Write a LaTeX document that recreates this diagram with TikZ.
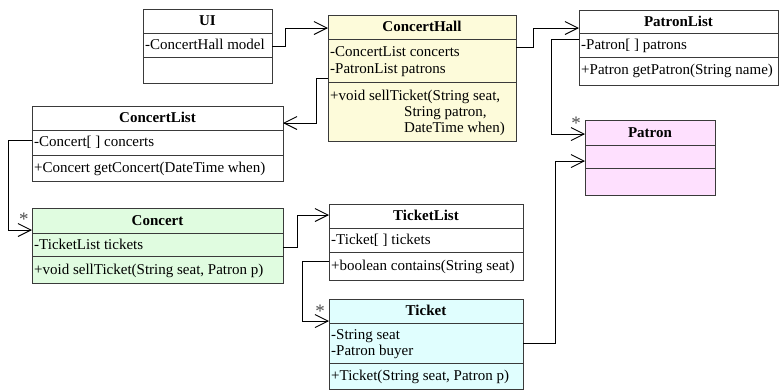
\documentclass[tikz,border=0pt]{standalone}
\usepackage{fontspec}
\setmainfont{Liberation Serif}
\usetikzlibrary{arrows.meta}

\definecolor{boxline}{HTML}{3A3A3A}
\definecolor{hallfill}{HTML}{FDFBDA}
\definecolor{concertfill}{HTML}{E0FCE0}
\definecolor{patronfill}{HTML}{FEE0FE}
\definecolor{ticketfill}{HTML}{E0FEFE}
\newcommand\umlfont{\fontsize{15}{17}\selectfont}

\tikzset{
  cls/.style={draw=boxline, line width=0.9pt, anchor=north west, inner sep=0pt, outer sep=0pt},
  sepline/.style={draw=boxline, line width=0.9pt},
  ttl/.style={font=\umlfont\bfseries, anchor=center, inner sep=0pt, text height=11pt, text depth=3pt},
  mem/.style={font=\umlfont, anchor=west, inner sep=0pt, xshift=2pt, text height=11pt, text depth=3pt},
  assoc/.style={draw=black, line width=0.9pt, -{Straight Barb[length=13pt,width=13pt,line width=0.9pt]}},
  mult/.style={font=\fontsize{19}{19}\selectfont, text=black!70, inner sep=0pt}
}

\begin{document}
\begin{tikzpicture}[x=1pt, y=-1pt]
\useasboundingbox (0,0) rectangle (780,389);

% ---- class boxes ----
\node[cls, fill=white, minimum width=129pt, minimum height=74pt] (ui) at (143,9) {};
\draw[sepline] (ui.west |- 0,33) -- (ui.east |- 0,33);
\draw[sepline] (ui.west |- 0,57) -- (ui.east |- 0,57);
\node[ttl] (uiT) at (ui.north |- 0,21) {UI};
\node[mem] (uiA) at (ui.west |- 0,45) {-ConcertHall model};

\node[cls, fill=hallfill, minimum width=188pt, minimum height=126pt] (hall) at (328,15) {};
\draw[sepline] (hall.west |- 0,39) -- (hall.east |- 0,39);
\draw[sepline] (hall.west |- 0,82) -- (hall.east |- 0,82);
\node[ttl] (hallT) at (hall.north |- 0,27) {ConcertHall};
\node[mem] (hallA1) at (hall.west |- 0,52) {-ConcertList concerts};
\node[mem] (hallA2) at (hall.west |- 0,69) {-PatronList patrons};
\node[mem] (hallO1) at (hall.west |- 0,96) {+void sellTicket(String seat,};
\node[mem, xshift=74pt] (hallO2) at (hall.west |- 0,112) {String patron,};
\node[mem, xshift=74pt] (hallO3) at (hall.west |- 0,128) {DateTime when)};

\node[cls, fill=white, minimum width=199pt, minimum height=75pt] (plist) at (579,10) {};
\draw[sepline] (plist.west |- 0,33) -- (plist.east |- 0,33);
\draw[sepline] (plist.west |- 0,57) -- (plist.east |- 0,57);
\node[ttl] (plistT) at (plist.north |- 0,22) {PatronList};
\node[mem] (plistA) at (plist.west |- 0,45) {-Patron[ ] patrons};
\node[mem] (plistO) at (plist.west |- 0,70) {+Patron getPatron(String name)};

\node[cls, fill=white, minimum width=251pt, minimum height=75pt] (clist) at (32,106) {};
\draw[sepline] (clist.west |- 0,130) -- (clist.east |- 0,130);
\draw[sepline] (clist.west |- 0,155) -- (clist.east |- 0,155);
\node[ttl] (clistT) at (clist.north |- 0,118) {ConcertList};
\node[mem] (clistA) at (clist.west |- 0,142) {-Concert[ ] concerts};
\node[mem] (clistO) at (clist.west |- 0,168) {+Concert getConcert(DateTime when)};

\node[cls, fill=patronfill, minimum width=130pt, minimum height=75pt] (patron) at (585,120) {};
\draw[sepline] (patron.west |- 0,145) -- (patron.east |- 0,145);
\draw[sepline] (patron.west |- 0,168) -- (patron.east |- 0,168);
\node[ttl] (patronT) at (patron.north |- 0,133) {Patron};

\node[cls, fill=concertfill, minimum width=251pt, minimum height=75pt] (concert) at (32,208) {};
\draw[sepline] (concert.west |- 0,233) -- (concert.east |- 0,233);
\draw[sepline] (concert.west |- 0,256) -- (concert.east |- 0,256);
\node[ttl] (concertT) at (concert.north |- 0,221) {Concert};
\node[mem] (concertA) at (concert.west |- 0,245) {-TicketList tickets};
\node[mem] (concertO) at (concert.west |- 0,270) {+void sellTicket(String seat, Patron p)};

\node[cls, fill=white, minimum width=194pt, minimum height=76pt] (tlist) at (329,204) {};
\draw[sepline] (tlist.west |- 0,228) -- (tlist.east |- 0,228);
\draw[sepline] (tlist.west |- 0,252) -- (tlist.east |- 0,252);
\node[ttl] (tlistT) at (tlist.north |- 0,216) {TicketList};
\node[mem] (tlistA) at (tlist.west |- 0,240) {-Ticket[ ] tickets};
\node[mem] (tlistO) at (tlist.west |- 0,266) {+boolean contains(String seat)};

\node[cls, fill=ticketfill, minimum width=194pt, minimum height=90pt] (ticket) at (329,299) {};
\draw[sepline] (ticket.west |- 0,323) -- (ticket.east |- 0,323);
\draw[sepline] (ticket.west |- 0,363) -- (ticket.east |- 0,363);
\node[ttl] (ticketT) at (ticket.north |- 0,311) {Ticket};
\node[mem] (ticketA1) at (ticket.west |- 0,335) {-String seat};
\node[mem] (ticketA2) at (ticket.west |- 0,351) {-Patron buyer};
\node[mem] (ticketO) at (ticket.west |- 0,376) {+Ticket(String seat, Patron p)};

% ---- associations ----
\draw[assoc] (ui.east |- 0,46) -- ++(13,0) |- (hall.west |- 0,28);
\draw[assoc] (hall.west |- 0,78) -- ++(-12,0) |- (clist.east |- 0,123);
\draw[assoc] (hall.east |- 0,47) -- ++(17,0) |- (plist.west |- 0,28);
\draw[assoc] (plist.west |- 0,39) -- ++(-28,0) |- (patron.west |- 0,134);
\draw[assoc] (ticket.east |- 0,343) -- ++(32,0) |- (patron.west |- 0,161);
\draw[assoc] (clist.west |- 0,140) -- ++(-24,0) |- (concert.west |- 0,230);
\draw[assoc] (concert.east |- 0,247) -- ++(14,0) |- (tlist.west |- 0,215);
\draw[assoc] (tlist.west |- 0,261) -- ++(-27,0) |- (ticket.west |- 0,321);

% ---- multiplicities ----
\node[mult] (mPatron) at (576,123) {*};
\node[mult] (mConcert) at (24,219) {*};
\node[mult] (mTicket) at (320,311) {*};
\end{tikzpicture}
\end{document}
